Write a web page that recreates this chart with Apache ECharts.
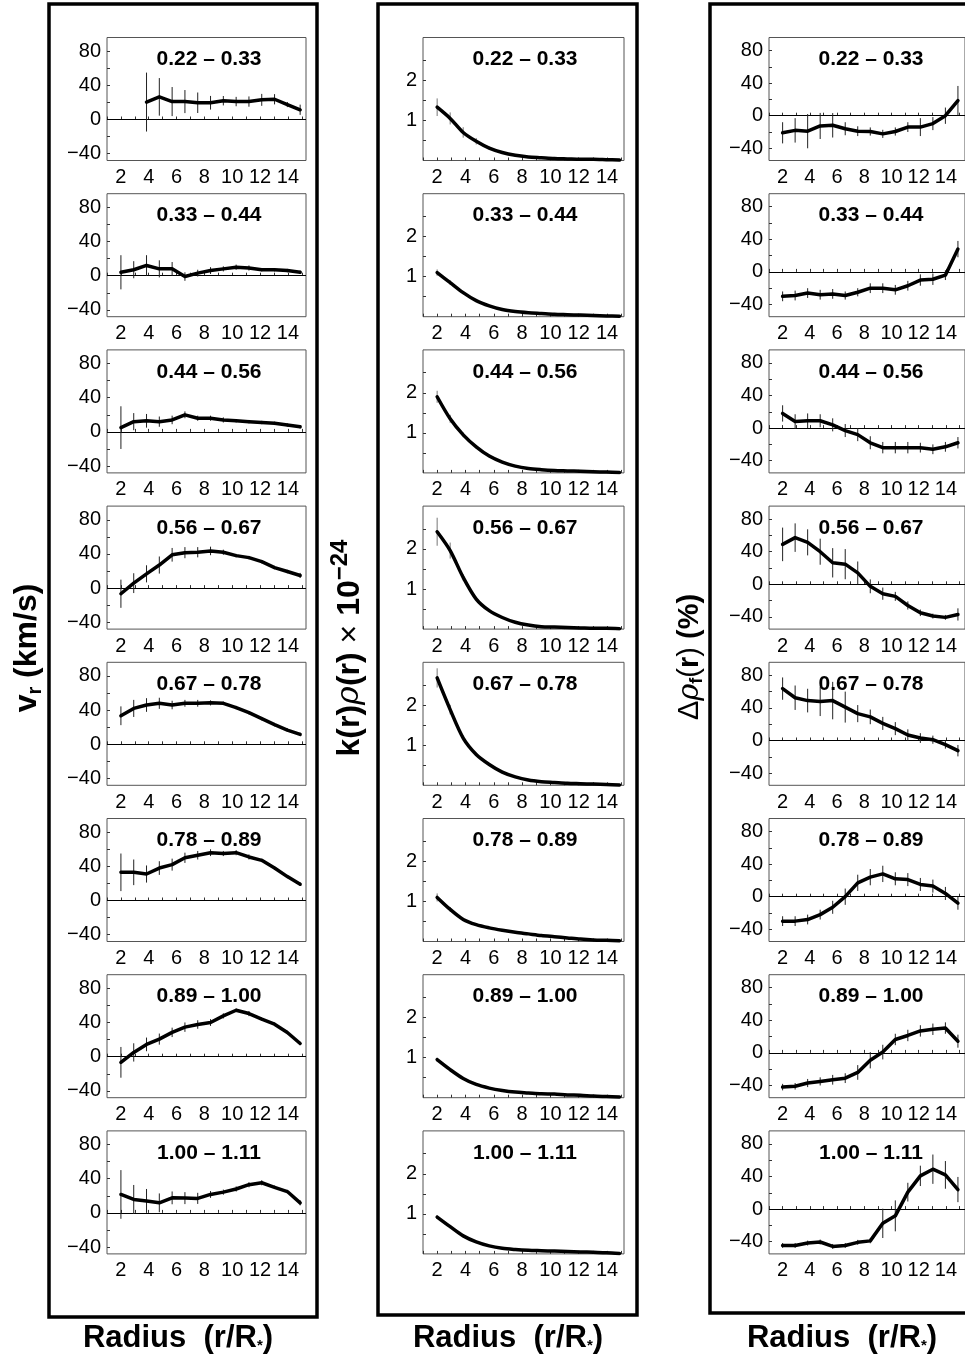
<!DOCTYPE html>
<html><head><meta charset="utf-8">
<script src="https://cdn.jsdelivr.net/npm/echarts@6/dist/echarts.min.js"></script>
<style>html,body{margin:0;padding:0;background:#fff}#c{width:965px;height:1359px}</style>
</head><body><div id="c"></div><script>
// radius sample points (r/R*)
const R = [2.00, 2.92, 3.84, 4.76, 5.68, 6.60, 7.52, 8.44, 9.36, 10.28, 11.20, 12.12, 13.04, 13.96, 14.88];
// phase bins
const bins = ['0.22', '0.33', '0.44', '0.56', '0.67', '0.78', '0.89', '1.00', '1.11'];

// column 1: radial velocity v_r (km/s)
const vr = [
  [null, null, 20.4, 26.5, 21, 21, 19.6, 19.6, 22, 21, 21, 23, 23.7, 17.5, 11.4],
  [4, 7, 12, 8, 8, -1, 3, 6, 8, 10, 9, 7, 7, 6, 4],
  [5, 12, 13, 12, 14, 20, 16, 16, 14, 13, 12, 11, 10, 8, 6],
  [-6.6, 5.8, 16.7, 27, 39, 41.5, 42, 43.5, 42, 38, 35.7, 31, 24, 19.4, 14.8],
  [33.4, 42, 46, 48, 46, 48, 48, 48.5, 48, 43, 37, 30, 23, 16.7, 11.6],
  [33, 33, 31, 38, 42, 50, 53, 56, 55, 56, 51, 47, 38, 28, 19],
  [-6.6, 5, 14.4, 20.6, 28.5, 34.6, 37.7, 40, 47.8, 54.4, 50.5, 44, 38, 28.3, 15.5],
  [21.6, 15.7, 14, 11.8, 17.6, 17.3, 17, 21.6, 24.3, 28, 33, 35.3, 30, 25, 11.8]
];
const vrErr = [
  [null, null, 34.5, 22, 17, 13.5, 12, 8, 5.5, 5.5, 6, 7, 6, 3, 6],
  [20, 10, 12, 10, 8, 5, 4, 4, 3, 3, 3, 2, 2, 2, 2],
  [25, 10, 8, 6, 5, 4, 3, 3, 3, 2, 2, 2, 2, 2, 2],
  [16.5, 11.6, 10, 10, 8, 6.5, 6, 5, 3, 2, 2, 2, 2, 2, 3],
  [11, 10, 8, 6.5, 5, 4, 4, 3, 2, 2, 2, 2, 2, 2, 2],
  [22, 15, 10, 8, 7, 6, 5, 4, 3, 3, 3, 2, 2, 2, 2],
  [18, 10.7, 8, 6.5, 5.5, 5.5, 5, 4, 3, 2, 3, 2, 2, 2, 2],
  [28.5, 17, 14, 11, 7.5, 7, 6.5, 4, 3, 3, 3, 3, 2, 2, 3]
];

// column 2: k(r) rho(r) x 1e-24
const krho = [
  [1.33, 1.05, 0.70, 0.48, 0.31, 0.20, 0.13, 0.09, 0.07, 0.05, 0.04, 0.03, 0.03, 0.02, 0.01],
  [1.10, 0.85, 0.60, 0.40, 0.27, 0.18, 0.13, 0.10, 0.08, 0.06, 0.05, 0.04, 0.03, 0.02, 0.01],
  [1.90, 1.35, 0.95, 0.65, 0.42, 0.27, 0.17, 0.11, 0.08, 0.06, 0.05, 0.04, 0.03, 0.02, 0.01],
  [2.43, 1.96, 1.29, 0.75, 0.46, 0.29, 0.17, 0.10, 0.06, 0.05, 0.04, 0.03, 0.02, 0.02, 0.01],
  [2.68, 1.89, 1.18, 0.77, 0.52, 0.33, 0.21, 0.13, 0.09, 0.07, 0.05, 0.04, 0.03, 0.02, 0.01],
  [1.10, 0.80, 0.55, 0.42, 0.34, 0.28, 0.23, 0.19, 0.15, 0.12, 0.09, 0.06, 0.04, 0.03, 0.02],
  [0.95, 0.70, 0.48, 0.33, 0.24, 0.18, 0.14, 0.12, 0.10, 0.09, 0.07, 0.06, 0.04, 0.03, 0.02],
  [0.92, 0.68, 0.45, 0.30, 0.20, 0.14, 0.11, 0.09, 0.08, 0.07, 0.06, 0.05, 0.04, 0.03, 0.01]
];
const krhoErr = [
  [0.22, 0.15, 0.13, 0.08, 0.04, 0.03, 0.02, 0.02, 0.01, 0.01, 0.01, 0.01, 0.01, 0.01, 0.01],
  [0.08, 0.06, 0.04, 0.03, 0.02, 0.02, 0.01, 0.01, 0.01, 0.01, 0.01, 0.01, 0.01, 0.01, 0.01],
  [0.15, 0.10, 0.06, 0.04, 0.03, 0.02, 0.02, 0.01, 0.01, 0.01, 0.01, 0.01, 0.01, 0.01, 0.01],
  [0.35, 0.20, 0.08, 0.05, 0.03, 0.02, 0.02, 0.01, 0.01, 0.01, 0.01, 0.01, 0.01, 0.01, 0.01],
  [0.24, 0.12, 0.06, 0.04, 0.03, 0.02, 0.02, 0.01, 0.01, 0.01, 0.01, 0.01, 0.01, 0.01, 0.01],
  [0.10, 0.06, 0.04, 0.03, 0.02, 0.02, 0.01, 0.01, 0.01, 0.01, 0.01, 0.01, 0.01, 0.01, 0.01],
  [0.05, 0.04, 0.03, 0.02, 0.02, 0.01, 0.01, 0.01, 0.01, 0.01, 0.01, 0.01, 0.01, 0.01, 0.01],
  [0.05, 0.04, 0.03, 0.02, 0.02, 0.01, 0.01, 0.01, 0.01, 0.01, 0.01, 0.01, 0.01, 0.01, 0.01]
];

// column 3: density fluctuation (%)
const drho = [
  [-21, -18, -19, -12.6, -11.8, -16, -19, -19.4, -22.3, -19.4, -14, -14, -9.7, 0, 18.5],
  [-30, -29, -26, -28, -27, -29, -25, -20, -20, -22, -17, -10, -9, -4, 28],
  [18, 8, 9, 9, 4, -3, -8, -18, -24, -24, -24, -24, -26, -23, -18],
  [49, 57.3, 51.5, 40, 26.4, 24.7, 14, -2.5, -11.5, -14.8, -26, -35, -39, -40.6, -37],
  [63.7, 52.5, 49, 48, 49, 41, 33, 29, 21, 14.6, 6.7, 3, 1, -5, -12.5],
  [-30, -30, -28, -22, -13, 0, 17, 24, 28, 22, 21, 15, 13, 4, -8],
  [-42, -41, -37, -35, -33, -31, -24, -9, 1, 16.5, 21.4, 27, 29, 30.5, 14.4],
  [-44.6, -44.6, -41.7, -40.4, -45.8, -44.6, -40.8, -39, -17.5, -8.3, 20.8, 40.8, 49, 42, 24]
];
const drhoErr = [
  [13, 15, 21, 16, 15, 8, 6, 5, 5, 5, 6, 11, 8, 10, 18],
  [6, 6, 6, 6, 6, 5, 5, 6, 6, 6, 6, 7, 7, 6, 10],
  [10, 9, 9, 8, 8, 8, 8, 8, 7, 7, 7, 6, 6, 6, 7],
  [20.6, 17.5, 16, 16, 18, 18.5, 14, 8.5, 7.5, 5.5, 5, 4, 3, 3, 7.5],
  [13.7, 15, 14.5, 18, 23, 19, 10.5, 9, 8, 8, 7, 6, 5, 5, 7],
  [6, 6, 6, 6, 8, 10, 10, 10, 10, 8, 8, 8, 8, 8, 8],
  [4, 4, 5, 5, 6, 6, 9, 10, 9, 7, 7, 7, 7, 7, 8],
  [3, 3, 3, 3, 3, 3, 3, 3, 18, 19, 11.5, 12.5, 18, 17, 15.5]
];

// tick labels
const xTickLabels = [2, 4, 6, 8, 10, 12, 14];
const xMinorTicks = [1, 2, 3, 4, 5, 6, 7, 8, 9, 10, 11, 12, 13, 14, 15];
const pctTickLabels = [-40, 0, 40, 80];
const pctMinorTicks = [-40, -20, 0, 20, 40, 60, 80];
const kTickLabels = [1, 2];
const kMinorTicks = [0.5, 1, 1.5, 2, 2.5];

const FONT = 'Liberation Sans, Arial, sans-serif';
const cols = [
  { vals: vr, errs: vrErr, left: 107, width: 199, xmax: 15.3, ymin: -48, ymax: 96, yl: pctTickLabels, yt: pctMinorTicks, zero: true, errColor: '#222', smooth: false },
  { vals: krho, errs: krhoErr, left: 423, width: 201, xmax: 15.2, ymin: 0, ymax: 3.07, yl: kTickLabels, yt: kMinorTicks, zero: false, errColor: '#777', smooth: 0.3 },
  { vals: drho, errs: drhoErr, left: 769, width: 199, xmax: 15.4, ymin: -55, ymax: 96, yl: pctTickLabels, yt: pctMinorTicks, zero: true, errColor: '#222', smooth: false }
];
const TOP0 = 37.5, STEP = 156.2, H = 123;

const grid = [], xAxis = [], yAxis = [], series = [], graphic = [];
const fmt = v => v < 0 ? '\u2212' + (-v) : String(v);

cols.forEach((c, ci) => {
  for (let k = 0; k < 8; k++) {
    const idx = ci * 8 + k;
    const top = TOP0 + k * STEP;
    grid.push({ left: c.left, top: top, width: c.width, height: H, show: true, borderColor: '#555', borderWidth: 1, backgroundColor: 'transparent' });
    xAxis.push({
      type: 'value', gridIndex: idx, min: 1, max: c.xmax,
      axisLine: { show: false }, splitLine: { show: false },
      axisTick: { show: true, inside: true, length: 3, customValues: xMinorTicks, lineStyle: { color: '#333', width: 1 } },
      axisLabel: { customValues: xTickLabels, fontSize: 20, color: '#000', margin: 7, fontFamily: FONT }
    });
    yAxis.push({
      type: 'value', gridIndex: idx, min: c.ymin, max: c.ymax,
      axisLine: { show: false }, splitLine: { show: false },
      axisTick: { show: true, inside: true, length: 3, customValues: c.yt, lineStyle: { color: '#333', width: 1 } },
      axisLabel: { customValues: c.yl, fontSize: 20, color: '#000', margin: 6, fontFamily: FONT, formatter: fmt }
    });
    const pts = [], bars = [];
    R.forEach((r, i) => {
      const v = c.vals[k][i], e = c.errs[k][i];
      if (v === null) return;
      pts.push([r, v]);
      bars.push([r, v - e, v + e]);
    });
    series.push({
      type: 'custom', xAxisIndex: idx, yAxisIndex: idx, data: bars, clip: true, silent: true, z: 2,
      encode: { x: 0, y: [1, 2] },
      renderItem: (params, api) => {
        const a = api.coord([api.value(0), api.value(1)]);
        const b = api.coord([api.value(0), api.value(2)]);
        return { type: 'line', shape: { x1: a[0], y1: a[1], x2: b[0], y2: b[1] }, style: { stroke: c.errColor, lineWidth: 1 } };
      }
    });
    const line = {
      type: 'line', xAxisIndex: idx, yAxisIndex: idx, data: pts, showSymbol: false, smooth: c.smooth,
      lineStyle: { color: '#000', width: 3.5, join: 'round', cap: 'round' }, silent: true, z: 3, clip: true
    };
    if (c.zero) {
      line.markLine = { silent: true, symbol: 'none', label: { show: false }, lineStyle: { color: '#000', width: 1, type: 'solid' }, data: [{ yAxis: 0 }], z: 1 };
    }
    series.push(line);
    graphic.push({
      type: 'text', x: c.left + 102, y: top + 22, z: 10,
      style: { text: bins[k] + ' \u2013 ' + bins[k + 1], fill: '#000', font: 'bold 21px ' + FONT, align: 'center', verticalAlign: 'middle' }
    });
  }
});

// outer frames
[[49, 4, 268, 1313], [378, 4, 259, 1311], [710, 4, 300, 1309]].forEach(b => {
  graphic.push({ type: 'rect', shape: { x: b[0], y: b[1], width: b[2], height: b[3] }, style: { fill: 'none', stroke: '#000', lineWidth: 3.5 }, z: 5 });
});

// x axis titles
const radiusRich = {
  b: { fontFamily: FONT, fontWeight: 'bold', fontSize: 31, fill: '#000' },
  s: { fontFamily: FONT, fontWeight: 'bold', fontSize: 15, fill: '#000', padding: [16, 0, 0, 0] }
};
[178, 508, 842].forEach(x => {
  graphic.push({ type: 'text', x: x, y: 1338, z: 10, style: { text: '{b|Radius  (r/R}{s|*}{b|)}', rich: radiusRich, align: 'center', verticalAlign: 'middle' } });
});

// y axis titles
const yRich = {
  b: { fontFamily: FONT, fontWeight: 'bold', fontSize: 32, fill: '#000' },
  n: { fontFamily: FONT, fontSize: 32, fill: '#000' },
  i: { fontFamily: 'DejaVu Serif, serif', fontStyle: 'italic', fontSize: 32, fill: '#000' },
  sub: { fontFamily: FONT, fontWeight: 'bold', fontSize: 20, fill: '#000', padding: [16, 0, 0, 0] },
  sup: { fontFamily: FONT, fontWeight: 'bold', fontSize: 24, fill: '#000', padding: [0, 0, 20, 0] }
};
const yRich3 = {
  b: { fontFamily: FONT, fontWeight: 'bold', fontSize: 29, fill: '#000' },
  n: { fontFamily: FONT, fontSize: 29, fill: '#000' },
  i: { fontFamily: 'DejaVu Serif, serif', fontStyle: 'italic', fontSize: 29, fill: '#000' },
  sub: { fontFamily: FONT, fontWeight: 'bold', fontSize: 18, fill: '#000', padding: [14, 0, 0, 0] }
};
graphic.push({ type: 'text', x: 27, y: 648, rotation: Math.PI / 2, z: 10, style: { text: '{b|v}{sub|r}{b| (km/s)}', rich: yRich, align: 'center', verticalAlign: 'middle' } });
graphic.push({ type: 'text', x: 350, y: 648, rotation: Math.PI / 2, z: 10, style: { text: '{b|k(r)}{i|\u03c1}{b|(r) }{n|\u00d7}{b| 10}{sup|\u221224}', rich: yRich, align: 'center', verticalAlign: 'middle' } });
graphic.push({ type: 'text', x: 690, y: 657, rotation: Math.PI / 2, z: 10, style: { text: '{n|\u0394}{i|\u03c1}{sub|f}{n|(}{b|r}{n|)}{b| (%)}', rich: yRich3, align: 'center', verticalAlign: 'middle' } });

const chart = echarts.init(document.getElementById('c'), null, { renderer: 'canvas' });
chart.setOption({ animation: false, backgroundColor: '#fff', grid, xAxis, yAxis, series, graphic });
</script></body></html>
